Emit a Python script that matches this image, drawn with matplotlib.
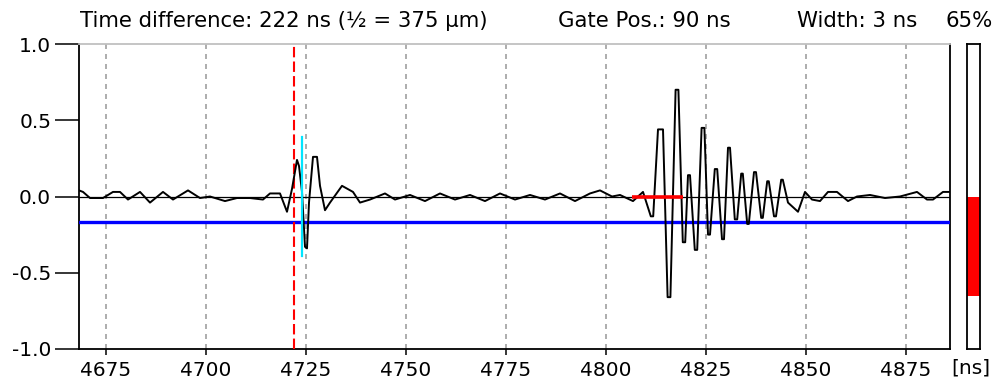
import matplotlib
matplotlib.use("Agg")
import matplotlib.pyplot as plt

# ---- data ----
sig_t = [4668.25, 4669.25, 4671.0, 4674.25, 4676.75, 4678.5, 4680.5, 4683.5, 4686.0, 4689.25,
         4691.75, 4695.5, 4698.5, 4701.0, 4704.75, 4707.75, 4711.0, 4714.25, 4716.0, 4718.5,
         4720.25, 4721.5, 4722.75, 4723.25, 4724.0, 4724.75, 4725.25, 4725.75, 4726.75, 4727.75,
         4728.5, 4729.75, 4731.0, 4734.0, 4736.75, 4738.5, 4741.0, 4744.75, 4747.25, 4751.0,
         4754.75, 4758.5, 4762.25, 4766.0, 4769.75, 4773.5, 4777.25, 4781.0, 4784.75, 4788.5,
         4792.25, 4796.0, 4798.5, 4801.5, 4803.5, 4806.75, 4809.25,
         4811.2, 4811.8, 4813.0, 4814.25,
         4815.4, 4816.1, 4817.4, 4818.1, 4819.2, 4819.8, 4820.5, 4821.0, 4822.2, 4822.8,
         4823.9, 4824.6, 4825.5, 4826.0, 4827.2, 4827.8, 4829.0, 4829.5, 4830.5, 4831.0,
         4832.2, 4832.8, 4833.8, 4834.2, 4835.3, 4835.7, 4837.0, 4837.5, 4838.8, 4839.2,
         4840.3, 4840.7, 4842.0, 4842.5, 4843.8, 4844.2, 4845.5, 4848.0,
         4849.75, 4851.5, 4853.5, 4855.5, 4857.75, 4860.5, 4862.75, 4866.0, 4869.75, 4873.5,
         4877.75, 4880.25, 4881.75, 4884.25, 4886.0]
sig_v = [0.04, 0.03, -0.01, -0.01, 0.03, 0.03, -0.02, 0.03, -0.04, 0.03,
         -0.02, 0.04, -0.01, 0.0, -0.03, -0.01, -0.01, -0.02, 0.02, 0.02,
         -0.10, 0.05, 0.24, 0.20, 0.03, -0.33, -0.34, -0.04, 0.26, 0.26,
         0.07, -0.09, -0.04, 0.07, 0.03, -0.04, -0.02, 0.02, -0.02, 0.01,
         -0.03, 0.02, -0.02, 0.01, -0.03, 0.02, -0.02, 0.01, -0.02, 0.02,
         -0.03, 0.02, 0.04, 0.0, 0.01, -0.03, 0.03,
         -0.13, -0.13, 0.44, 0.44,
         -0.66, -0.66, 0.70, 0.70, -0.30, -0.30, 0.14, 0.14, -0.35, -0.35,
         0.45, 0.45, -0.25, -0.25, 0.18, 0.18, -0.28, -0.28, 0.32, 0.32,
         -0.15, -0.15, 0.15, 0.15, -0.18, -0.18, 0.16, 0.16, -0.14, -0.14,
         0.10, 0.10, -0.13, -0.13, 0.11, 0.11, -0.04, -0.10,
         0.03, -0.02, -0.03, 0.03, 0.03, -0.03, 0.0, 0.01, -0.01, 0.0,
         0.03, -0.02, -0.02, 0.03, 0.03]

x_ticks = [4675, 4700, 4725, 4750, 4775, 4800, 4825, 4850, 4875]
y_ticks = [-1.0, -0.5, 0.0, 0.5, 1.0]
x_range = [4668.25, 4886.0]

marker_red_t = 4722.0          # red dashed marker
marker_cyan_t = 4724.0         # cyan marker
cyan_span = [-0.39, 0.39]
threshold = -0.17              # blue line
gate_t = [4806.5, 4819.25]     # red gate segment
gate_v = 0.0
bar_level = -0.65              # 65 %

title_left = "Time difference: 222 ns (\u00bd = 375 \u00b5m)"
title_gate = "Gate Pos.: 90 ns"
title_width = "Width: 3 ns"
title_pct = "65%"

# ---- figure ----
W, H = 995, 379
fig = plt.figure(figsize=(W / 100, H / 100), dpi=100)
plt.rcParams['font.family'] = ['DejaVu Sans']

ax = fig.add_axes([79 / W, 30 / H, 871 / W, 305 / H])
ax.set_xlim(*x_range)
ax.set_ylim(-1, 1)

for t in x_ticks:
    ax.axvline(t, color='#a0a0a0', lw=1.2, ls=(0, (3, 3)), zorder=1)

ax.axhline(0, color='black', lw=0.9, zorder=2)
ax.axhline(threshold, color='#0000ff', lw=2.4, zorder=3)
ax.axvline(marker_red_t, color='#ff0000', lw=1.5, ls=(0, (5, 2)), zorder=4)
ax.plot(sig_t, sig_v, color='black', lw=1.4, zorder=5)
ax.plot([marker_cyan_t, marker_cyan_t], cyan_span, color='#00e5ff', lw=1.6, zorder=6)
ax.plot(gate_t, [gate_v, gate_v], color='#ff0000', lw=2.6, solid_capstyle='butt', zorder=7)

ax.set_xticks(x_ticks)
ax.set_xticklabels([str(t) for t in x_ticks])
ax.set_yticks(y_ticks)
ax.set_yticklabels([f"{v:.1f}" for v in y_ticks])
ax.tick_params(axis='y', direction='out', length=17, width=1.1, pad=3, labelsize=14.5)
ax.tick_params(axis='x', direction='out', length=4, width=1.1, pad=5, labelsize=14.5)
for s in ['left', 'right', 'bottom']:
    ax.spines[s].set_color('black')
    ax.spines[s].set_linewidth(1.3)
ax.spines['top'].set_color('#c0c0c0')
ax.spines['top'].set_linewidth(1.3)

# percentage bar
bx = fig.add_axes([967 / W, 30 / H, 13 / W, 305 / H])
bx.set_xlim(0, 1)
bx.set_ylim(-1, 1)
bx.fill_between([0, 1], [bar_level, bar_level], [0, 0], color='#ff0000', lw=0)
bx.set_xticks([])
bx.set_yticks([])
for s in bx.spines.values():
    s.set_color('black')
    s.set_linewidth(1.3)

# texts
fs = 15.3
fig.text(80 / W, 1 - 21 / H, title_left, fontsize=fs, va='center', ha='left')
fig.text(558 / W, 1 - 21 / H, title_gate, fontsize=fs, va='center', ha='left')
fig.text(797 / W, 1 - 21 / H, title_width, fontsize=fs, va='center', ha='left')
fig.text(993 / W, 1 - 21 / H, title_pct, fontsize=fs, va='center', ha='right')
fig.text(971 / W, 1 - 368 / H, "[ns]", fontsize=14.5, va='center', ha='center')

fig.savefig("out.png", dpi=100)
